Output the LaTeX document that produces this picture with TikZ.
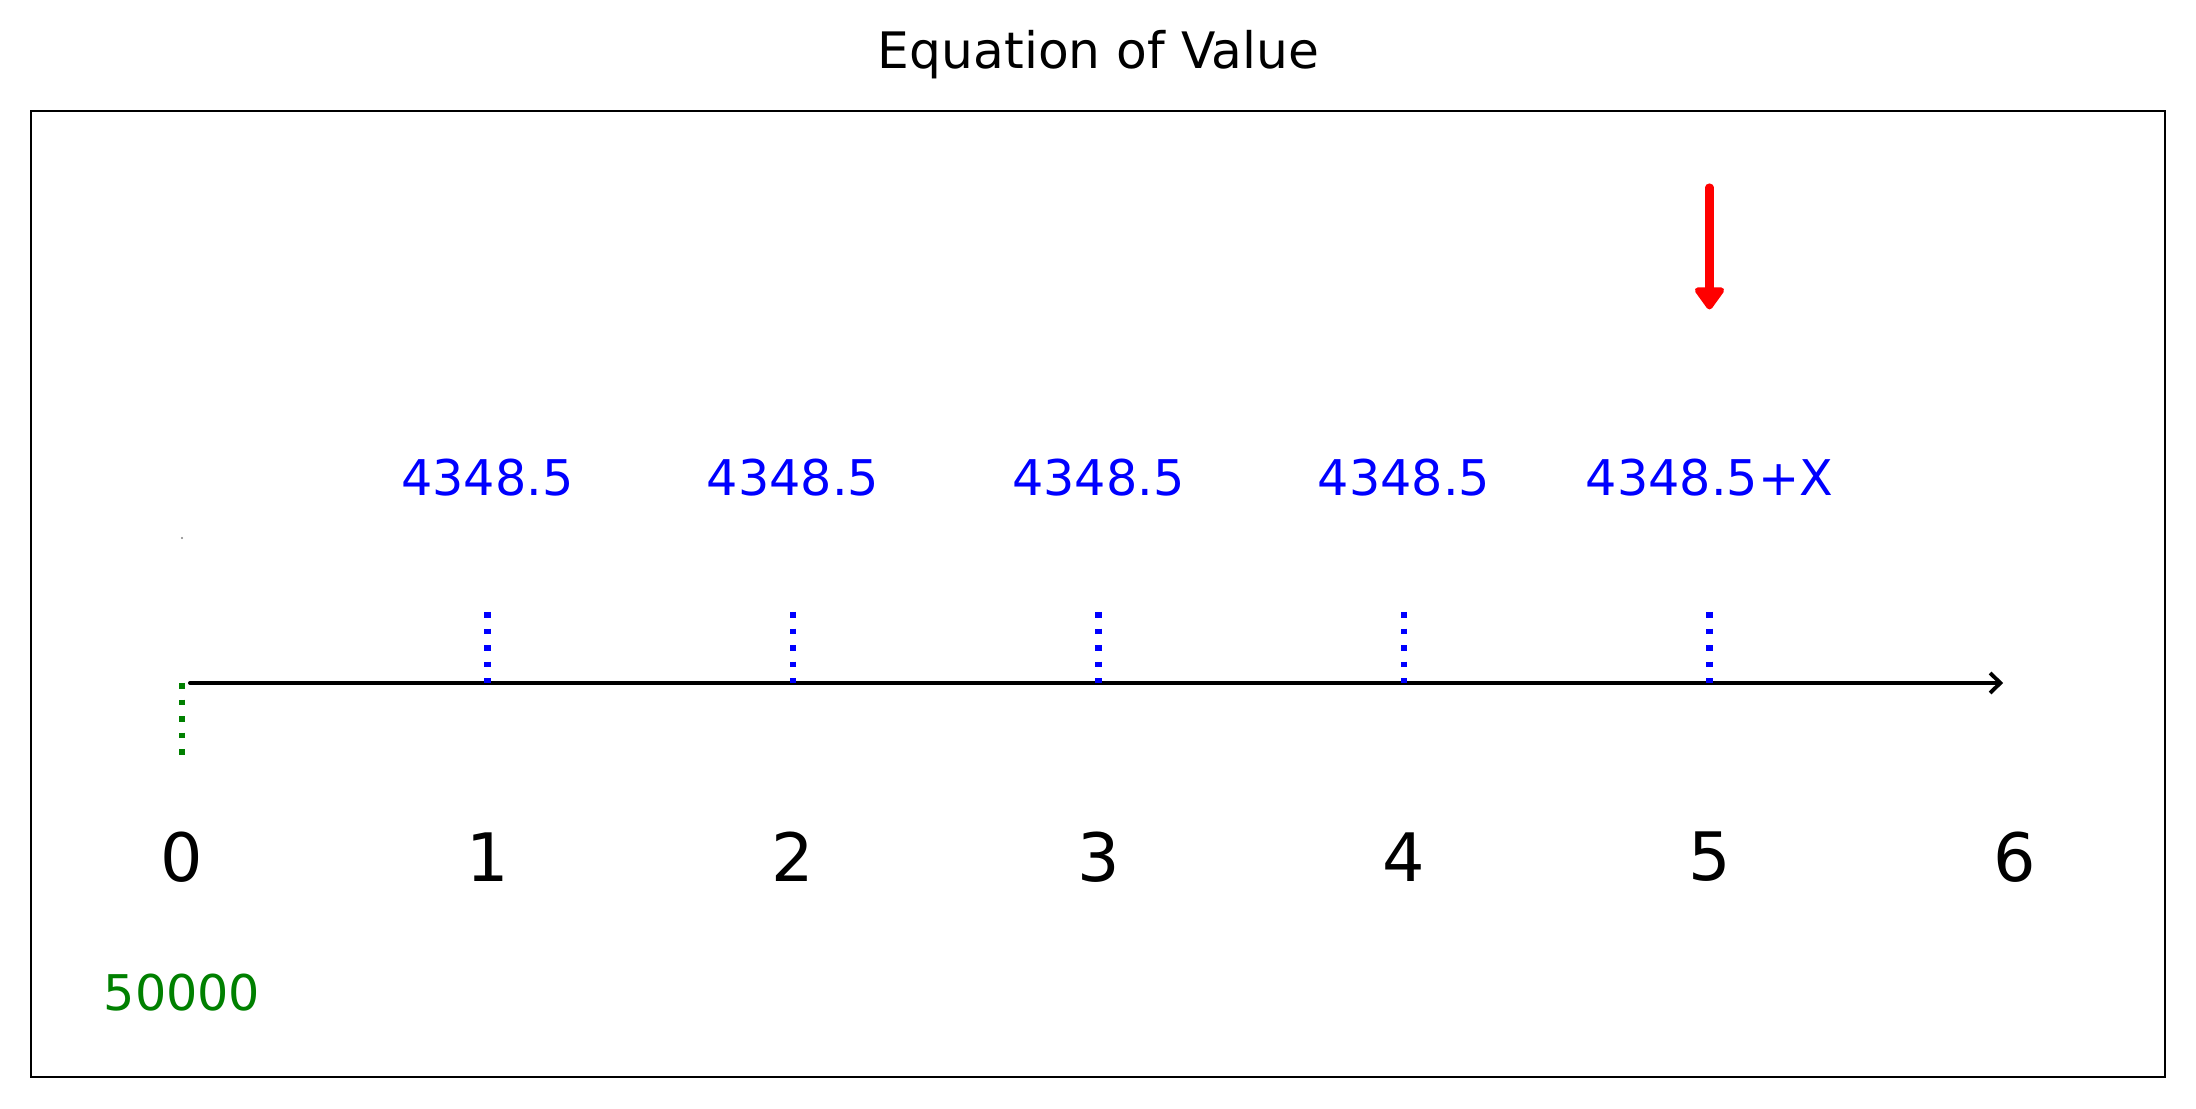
\documentclass[tikz,border=0pt]{standalone}
\usepackage{fontspec}
\setmainfont{DejaVu Sans}
\usetikzlibrary{arrows.meta, positioning}
\definecolor{cfblue}{RGB}{0,0,255}
\definecolor{cfgreen}{RGB}{0,128,0}
\definecolor{cfred}{RGB}{255,0,0}
\tikzset{
	payment/.style={text=cfblue, font=\fontsize{14}{17}\selectfont},
	loan/.style={text=cfgreen, font=\fontsize{14}{17}\selectfont},
	period/.style={font=\fontsize{19}{23}\selectfont},
	paytick/.style={draw=cfblue, line width=1.8pt, dash pattern=on 1.6pt off 3.1pt},
	loantick/.style={draw=cfgreen, line width=1.8pt, dash pattern=on 1.6pt off 3.1pt},
	timeline/.style={draw, line width=1.1pt, line cap=round, -{Straight Barb[length=2.9pt, width=5.7pt]}},
	unknown/.style={draw=cfred, line width=2.3pt, line cap=round, -{Triangle[round, length=7pt, width=9.5pt]}}
}

\begin{document}
\begin{tikzpicture}[x=3.055cm, y=1cm]
		\useasboundingbox (-0.5957,-4.26) rectangle (6.5925,6.83);
		\draw[line width=0.8pt] (-0.494,-3.94) rectangle (6.491,5.72);
		\node[font=\fontsize{14.3}{17}\selectfont] (title) at (3,6.28) {Equation of Value};
		% time line
		\coordinate (axstart) at (0.026,0);
		\coordinate (axend) at (5.961,0);
		\draw[timeline] (axstart) -- (axend);
		\foreach \i in {0,...,6} {
			\coordinate (t\i) at (\i,0);
			\node[period] (n\i) at (\i,-1.74) {\i};
		}
		% payments
		\foreach \i in {1,...,5} {
			\coordinate (p\i) at (\i,0.71);
			\draw[paytick] (p\i) -- (t\i);
		}
		\foreach \i in {1,...,4}
			\node[payment] (amt\i) at (\i,2.055) {4348.5};
		\node[payment] (amt5) at (5,2.055) {4348.5+X};
		% loan
		\coordinate (l0) at (0,-0.73);
		\draw[loantick] (t0) -- (l0);
		\node[loan] (loanamt) at (0,-3.10) {50000};
		\fill[gray] (0,1.45) circle (0.3pt);
		% unknown X
		\coordinate (rtop) at (5,4.955);
		\coordinate (rtip) at (5,3.735);
		\draw[unknown] (rtop) -- (rtip);
\end{tikzpicture}
\end{document}
